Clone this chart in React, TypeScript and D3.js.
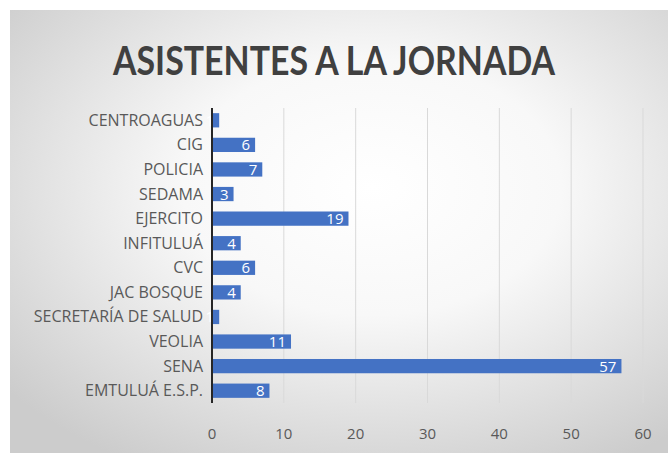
import React from "react";
import * as d3 from "d3";

const categories = [
  "CENTROAGUAS",
  "CIG",
  "POLICIA",
  "SEDAMA",
  "EJERCITO",
  "INFITULUÁ",
  "CVC",
  "JAC BOSQUE",
  "SECRETARÍA DE SALUD",
  "VEOLIA",
  "SENA",
  "EMTULUÁ E.S.P.",
];
const values = [1, 6, 7, 3, 19, 4, 6, 4, 1, 11, 57, 8];
const ticks = [0, 10, 20, 30, 40, 50, 60];
const title = "ASISTENTES A LA JORNADA";

const W = 668;
const H = 453;

export default function App() {
  const x = d3.scaleLinear().domain([0, 60]).range([212, 643]);
  const y = d3.scaleBand<string>().domain(categories).range([108, 403]).paddingInner(0.42).paddingOuter(0.21);
  const bh = y.bandwidth();
  return (
    <div style={{ position: "absolute", left: 0, top: 0 }}>
      <svg width={W} height={H} style={{ display: "block" }}>
        <defs>
          <radialGradient id="bg" cx="55%" cy="40%" r="72%">
            <stop offset="0%" stopColor="#ffffff" />
            <stop offset="40%" stopColor="#f8f8f8" />
            <stop offset="100%" stopColor="#cccccc" />
          </radialGradient>
        </defs>
        <rect x={0} y={0} width={W} height={H} fill="#ffffff" />
        <rect x={10} y={10} width={W - 10} height={H - 10} fill="url(#bg)" />
        <text
          x={334}
          y={75}
          textAnchor="middle"
          fontFamily="Lato, 'Open Sans', sans-serif"
          fontWeight={700}
          fontSize={40}
          fill="#404040"
          textLength={442}
          lengthAdjust="spacingAndGlyphs"
        >
          {title}
        </text>
        {ticks.map((t) => (
          <g key={t}>
            {t > 0 && (
              <line x1={x(t)} x2={x(t)} y1={108} y2={403} stroke="#d9d9d9" strokeWidth={1} />
            )}
            <text
              x={x(t)}
              y={439}
              textAnchor="middle"
              fontFamily="'Open Sans', Lato, sans-serif"
              fontSize={15}
              fill="#595959"
            >
              {t}
            </text>
          </g>
        ))}
        {categories.map((c, i) => {
          const yy = y(c)!;
          const v = values[i];
          return (
            <g key={c}>
              <rect x={x(0)} y={yy} width={x(v) - x(0)} height={bh} fill="#4472c4" />
              <text
                x={x(v) - 5}
                y={yy + bh / 2 + 5.5}
                textAnchor="end"
                fontFamily="'Open Sans', Lato, sans-serif"
                fontSize={15}
                fill="#ffffff"
              >
                {v}
              </text>
              <text
                x={203}
                y={yy + bh / 2 + 5.5}
                textAnchor="end"
                fontFamily="'Open Sans', Lato, sans-serif"
                fontSize={16}
                fill="#595959"
              >
                {c}
              </text>
            </g>
          );
        })}
        <line x1={x(0)} x2={x(0)} y1={108} y2={403} stroke="#262626" strokeWidth={2} />
      </svg>
    </div>
  );
}
